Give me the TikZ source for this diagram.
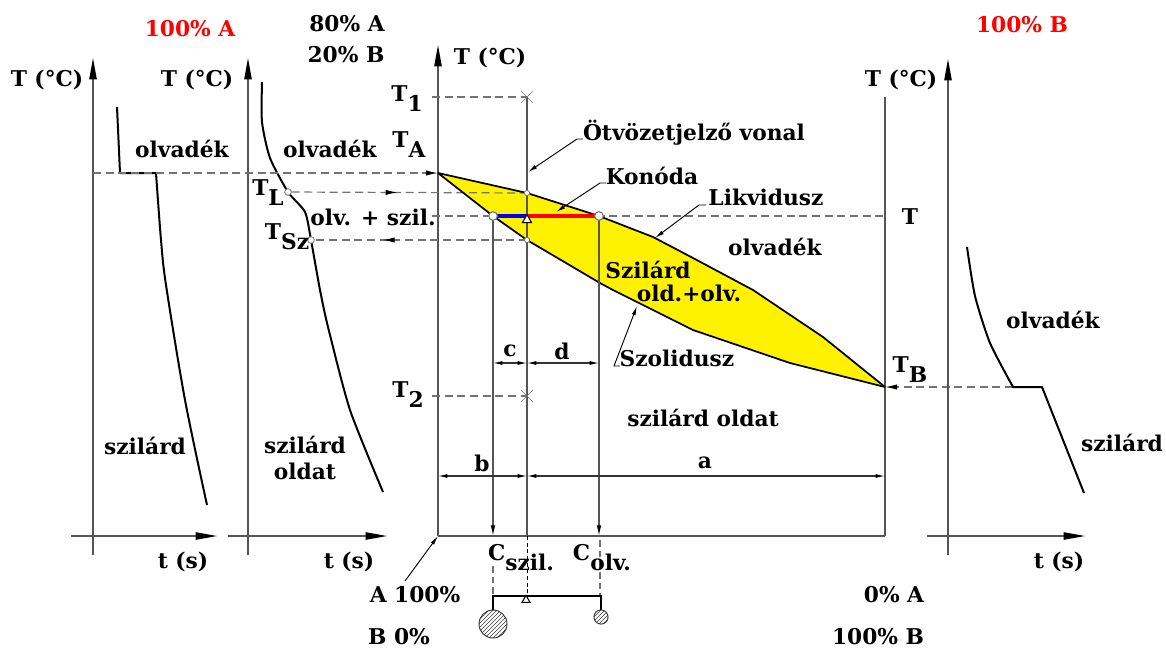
\documentclass[tikz,border=0pt]{standalone}
\usepackage{fontspec}
\setmainfont{DejaVu Serif}
\usetikzlibrary{arrows.meta,patterns,shapes.misc,shapes.geometric,decorations.markings}
\newcommand{\lsub}[1]{\raisebox{-7.5pt}{#1}}
\definecolor{axgray}{RGB}{85,85,85}
\definecolor{dgray}{RGB}{115,115,115}
\begin{document}
\begin{tikzpicture}[x=0.75pt,y=-0.75pt,
 lbl/.style={font=\bfseries\fontsize{16.3}{19}\selectfont, inner sep=0pt},
 redlbl/.style={lbl, text=red},
 axisl/.style={draw=axgray, line width=1pt},
 axarr/.style={axisl, -{Triangle[length=16pt,width=5.5pt,color=black]}},
 curve/.style={draw=black, line width=1.5pt, line join=round},
 dashl/.style={draw=dgray, line width=0.9pt, dash pattern=on 6pt off 3.5pt},
 dimarr/.style={draw=black!80, line width=0.8pt, {Latex[length=7pt,width=3pt,color=black]}-{Latex[length=7pt,width=3pt,color=black]}},
 leader/.style={draw=black, line width=0.7pt, -{Latex[length=7pt,width=3pt]}},
 downarr/.style={axisl, line width=0.9pt, -{Latex[length=8pt,width=3.5pt,color=black]}},
 bigdot/.style={circle, draw=dgray, fill=white, line width=0.8pt, minimum size=6.5pt, inner sep=0pt},
 smalldot/.style={circle, draw=dgray, fill=white, line width=0.6pt, minimum size=4pt, inner sep=0pt},
 xmark/.style={cross out, draw=dgray, line width=0.5pt, minimum size=8pt, inner sep=0pt},
 tri/.style={regular polygon, regular polygon sides=3, draw=black, fill=white, line width=0.8pt, minimum size=8pt, inner sep=0pt},
 dashmark/.style={dashl, postaction={decorate, decoration={markings, mark=at position #1 with {\arrow{Latex[length=9pt,width=4pt,color=black]}}}}},
]
\useasboundingbox (0,0) rectangle (1166,651);

% ---------- key coordinates ----------
\coordinate (O) at (438,536);
\coordinate (Otop) at (438,45);
\coordinate (R) at (885,536);
\coordinate (Rtop) at (885,97);
\coordinate (TAp) at (438,173);
\coordinate (TBp) at (885,387);
\coordinate (L1) at (527,193);
\coordinate (S1) at (527,240);
\coordinate (Cs) at (493,216);
\coordinate (Cl) at (599,216);
\coordinate (Ct) at (527,216);
\coordinate (Av) at (527,97);
\coordinate (Ab) at (527,536);
\coordinate (Abd) at (527,596);

% ---------- two-phase region ----------
\fill[yellow] (438,173) -- (527,193) -- (599,216) -- (653,237) -- (693,258) -- (753,290) -- (823,337) -- (885,387)
  -- (790,363) -- (693,330) -- (613,290) -- (600,283) -- (527,240) -- (493,216) -- cycle;

% ---------- panel 1 (100% A) ----------
\draw[axarr] (93,555) -- (93,58);
\draw[axarr] (71,536) -- (217,536);
\draw[curve] (117,107) -- (120,173) -- (156,173) plot[smooth, tension=0.5] coordinates {(156,173) (161,240) (166,285) (185,400) (207,505)};
\node[redlbl] (tA) at (190,29) {100\% A};
\node[lbl] (ax1) at (47,80) {T (°C)};
\node[lbl] (ol1) at (182,149) {olvadék};
\node[lbl] (sz1) at (145,446) {szilárd};
\node[lbl] (ts1) at (183,562) {t (s)};

% ---------- panel 2 (80% A) ----------
\draw[axarr] (248,555) -- (248,58);
\draw[axarr] (228,536) -- (387,536);
\draw[curve] plot[smooth, tension=0.4] coordinates {(262,82) (262,122) (270,158) (288,192) (305,212) (311,240) (320,290) (328,327) (350,410) (383,492)};
\node[lbl] (p80) at (347,24) {80\% A};
\node[lbl] (p20) at (346,55) {20\% B};
\node[lbl] (ax2) at (197,80) {T (°C)};
\node[lbl] (ol2) at (330,149) {olvadék};
\node[lbl, align=center] (sz2) at (305,458) {szilárd\\[1pt]oldat};
\node[lbl] (ts2) at (349,562) {t (s)};
\node[smalldot, minimum size=5pt] (TLp) at (288,192) {};
\node[smalldot, minimum size=5pt] (TSp) at (311,240) {};
\node[lbl] (TL) at (268,193) {T\lsub{L}};
\node[lbl] (TS) at (287,237) {T\lsub{Sz}};
\node[lbl] (os) at (373,217) {olv. + szil.};

% ---------- main diagram frame ----------
\draw[axarr] (O) -- (Otop);
\draw[axisl] (R) -- (Rtop);
\draw[axisl] (O) -- (R);
\node[lbl] (ax3) at (490,58) {T (°C)};
\node[lbl] (ax4) at (901,80) {T (°C)};

% dashed temperature lines
\draw[dashl, -{Latex[length=9pt,width=4pt,color=black]}] (93,173) -- (TAp);
\draw[dashmark=0.45] (TLp) -- (L1);
\draw[dashmark=0.68] (S1) -- (TSp);
\draw[dashl, -{Latex[length=9pt,width=4pt,color=black]}] (1013,387) -- (TBp);
\draw[dashl] (432,216) -- (885,216);
\draw[dashl] (432,97) -- (Av);
\draw[dashl] (432,396) -- (527,396);

% alloy line
\draw[axisl, line width=0.8pt] (Av) -- (Ab);
\draw[draw=black, line width=0.6pt, dash pattern=on 3pt off 2pt] (Ab) -- (Abd);
\node[xmark] (x1) at (Av) {};
\node[xmark] (x2) at (527,396) {};

% liquidus & solidus
\draw[curve, line width=1.3pt] (TAp) -- (L1) -- (Cl) -- (653,237) -- (693,258) -- (753,290) -- (823,337) -- (TBp);
\draw[curve, line width=1.3pt] (TAp) -- (Cs) -- (S1) -- (600,283) -- (613,290) -- (693,330) -- (790,363) -- (TBp);

% concentration drop lines
\draw[downarr] (Cs) -- (493,536);
\draw[downarr] (Cl) -- (599,536);
\draw[dgray, line width=0.8pt, dash pattern=on 5pt off 3pt] (493,566) -- (493,596);
\draw[dgray, line width=0.8pt, dash pattern=on 5pt off 3pt] (600,540) -- (600,596);

% conode
\draw[blue, line width=2.6pt] (Cs) -- (Ct);
\draw[red, line width=2.6pt] (Ct) -- (Cl);
\node[bigdot] (cs) at (Cs) {};
\node[bigdot] (cl) at (Cl) {};
\node[smalldot] (l1) at (L1) {};
\node[smalldot] (s1) at (S1) {};
\node[tri] (tr) at (527,220) {};

% dimensions
\draw[axisl, line width=0.8pt] (O) -- (438,476);
\draw[dimarr] (438,476) -- (527,476);
\draw[dimarr] (527,476) -- (885,476);
\draw[dimarr] (493,363) -- (527,363);
\draw[dimarr] (527,363) -- (599,363);
\node[lbl] (lb) at (482,463) {b};
\node[lbl] (la) at (705,463) {a};
\node[lbl] (lc) at (510,351) {c};
\node[lbl] (ld) at (562,351) {d};

% temperature labels
\node[lbl] (T1) at (407,99) {T\lsub{1}};
\node[lbl] (TA) at (409,145) {T\lsub{A}};
\node[lbl] (T2) at (408,395) {T\lsub{2}};
\node[lbl] (Tl) at (910,217) {T};
\node[lbl] (TB) at (910,370) {T\lsub{B}};

% region labels
\node[lbl] (szl) at (648,270) {Szilárd};
\node[lbl] (oo) at (689,293) {old.+olv.};
\node[lbl] (olm) at (775,247) {olvadék};
\node[lbl] (szo) at (703,418) {szilárd oldat};

% leader labels
\node[lbl] (otv) at (694,133) {Ötvözetjelző vonal};
\node[lbl] (kon) at (652,176) {Konóda};
\node[lbl] (lik) at (766,197) {Likvidusz};
\node[lbl] (szol) at (677,358) {Szolidusz};
\coordinate (otvA) at (583,139);
\coordinate (konA) at (606,183);
\coordinate (likA) at (706,205);
\coordinate (szolA) at (620,366);
\draw[leader] (otvA) -- (577,139) -- (528,172);
\draw[leader] (konA) -- (600,183) -- (556,212);
\draw[leader] (likA) -- (699,205) -- (655,238);
\draw[leader] (szolA) -- (614,366) -- (637,306);
\coordinate (orgA) at (405,581);
\draw[leader] (orgA) -- (O);

% concentration labels
\node[lbl] (Csz) at (521,558) {C\lsub{szil.}};
\node[lbl] (Col) at (602,558) {C\lsub{olv.}};
\node[lbl] (A100) at (415,595) {A 100\%};
\node[lbl] (B0) at (399,637) {B 0\%};
\node[lbl] (A0) at (894,595) {0\% A};
\node[lbl] (B100) at (878,637) {100\% B};

% lever
\coordinate (lvL) at (493,596);
\coordinate (lvR) at (601,596);
\draw[black, line width=0.8pt] (493,610) -- (lvL) -- (lvR) -- (601,610);
\node[tri, minimum size=7pt] (ltr) at (526,600) {};
\draw[black!80, line width=0.7pt, pattern=north east lines, pattern color=black!75] (493,624) circle (10.5pt);
\draw[black!80, line width=0.7pt, pattern=north east lines, pattern color=black!75] (601,617) circle (5.3pt);

% ---------- panel 3 (100% B) ----------
\draw[axarr] (948,555) -- (948,59);
\draw[axarr] (927,536) -- (1085,536);
\draw[curve] plot[smooth, tension=0.4] coordinates {(967,247) (975,296) (990,343) (1013,387)} -- (1042,387) -- (1084,493);
\node[redlbl] (tB) at (1022,25) {100\% B};
\node[lbl] (ol3) at (1053,320) {olvadék};
\node[lbl] (sz3) at (1122,443) {szilárd};
\node[lbl] (ts3) at (1059,562) {t (s)};
\end{tikzpicture}
\end{document}
